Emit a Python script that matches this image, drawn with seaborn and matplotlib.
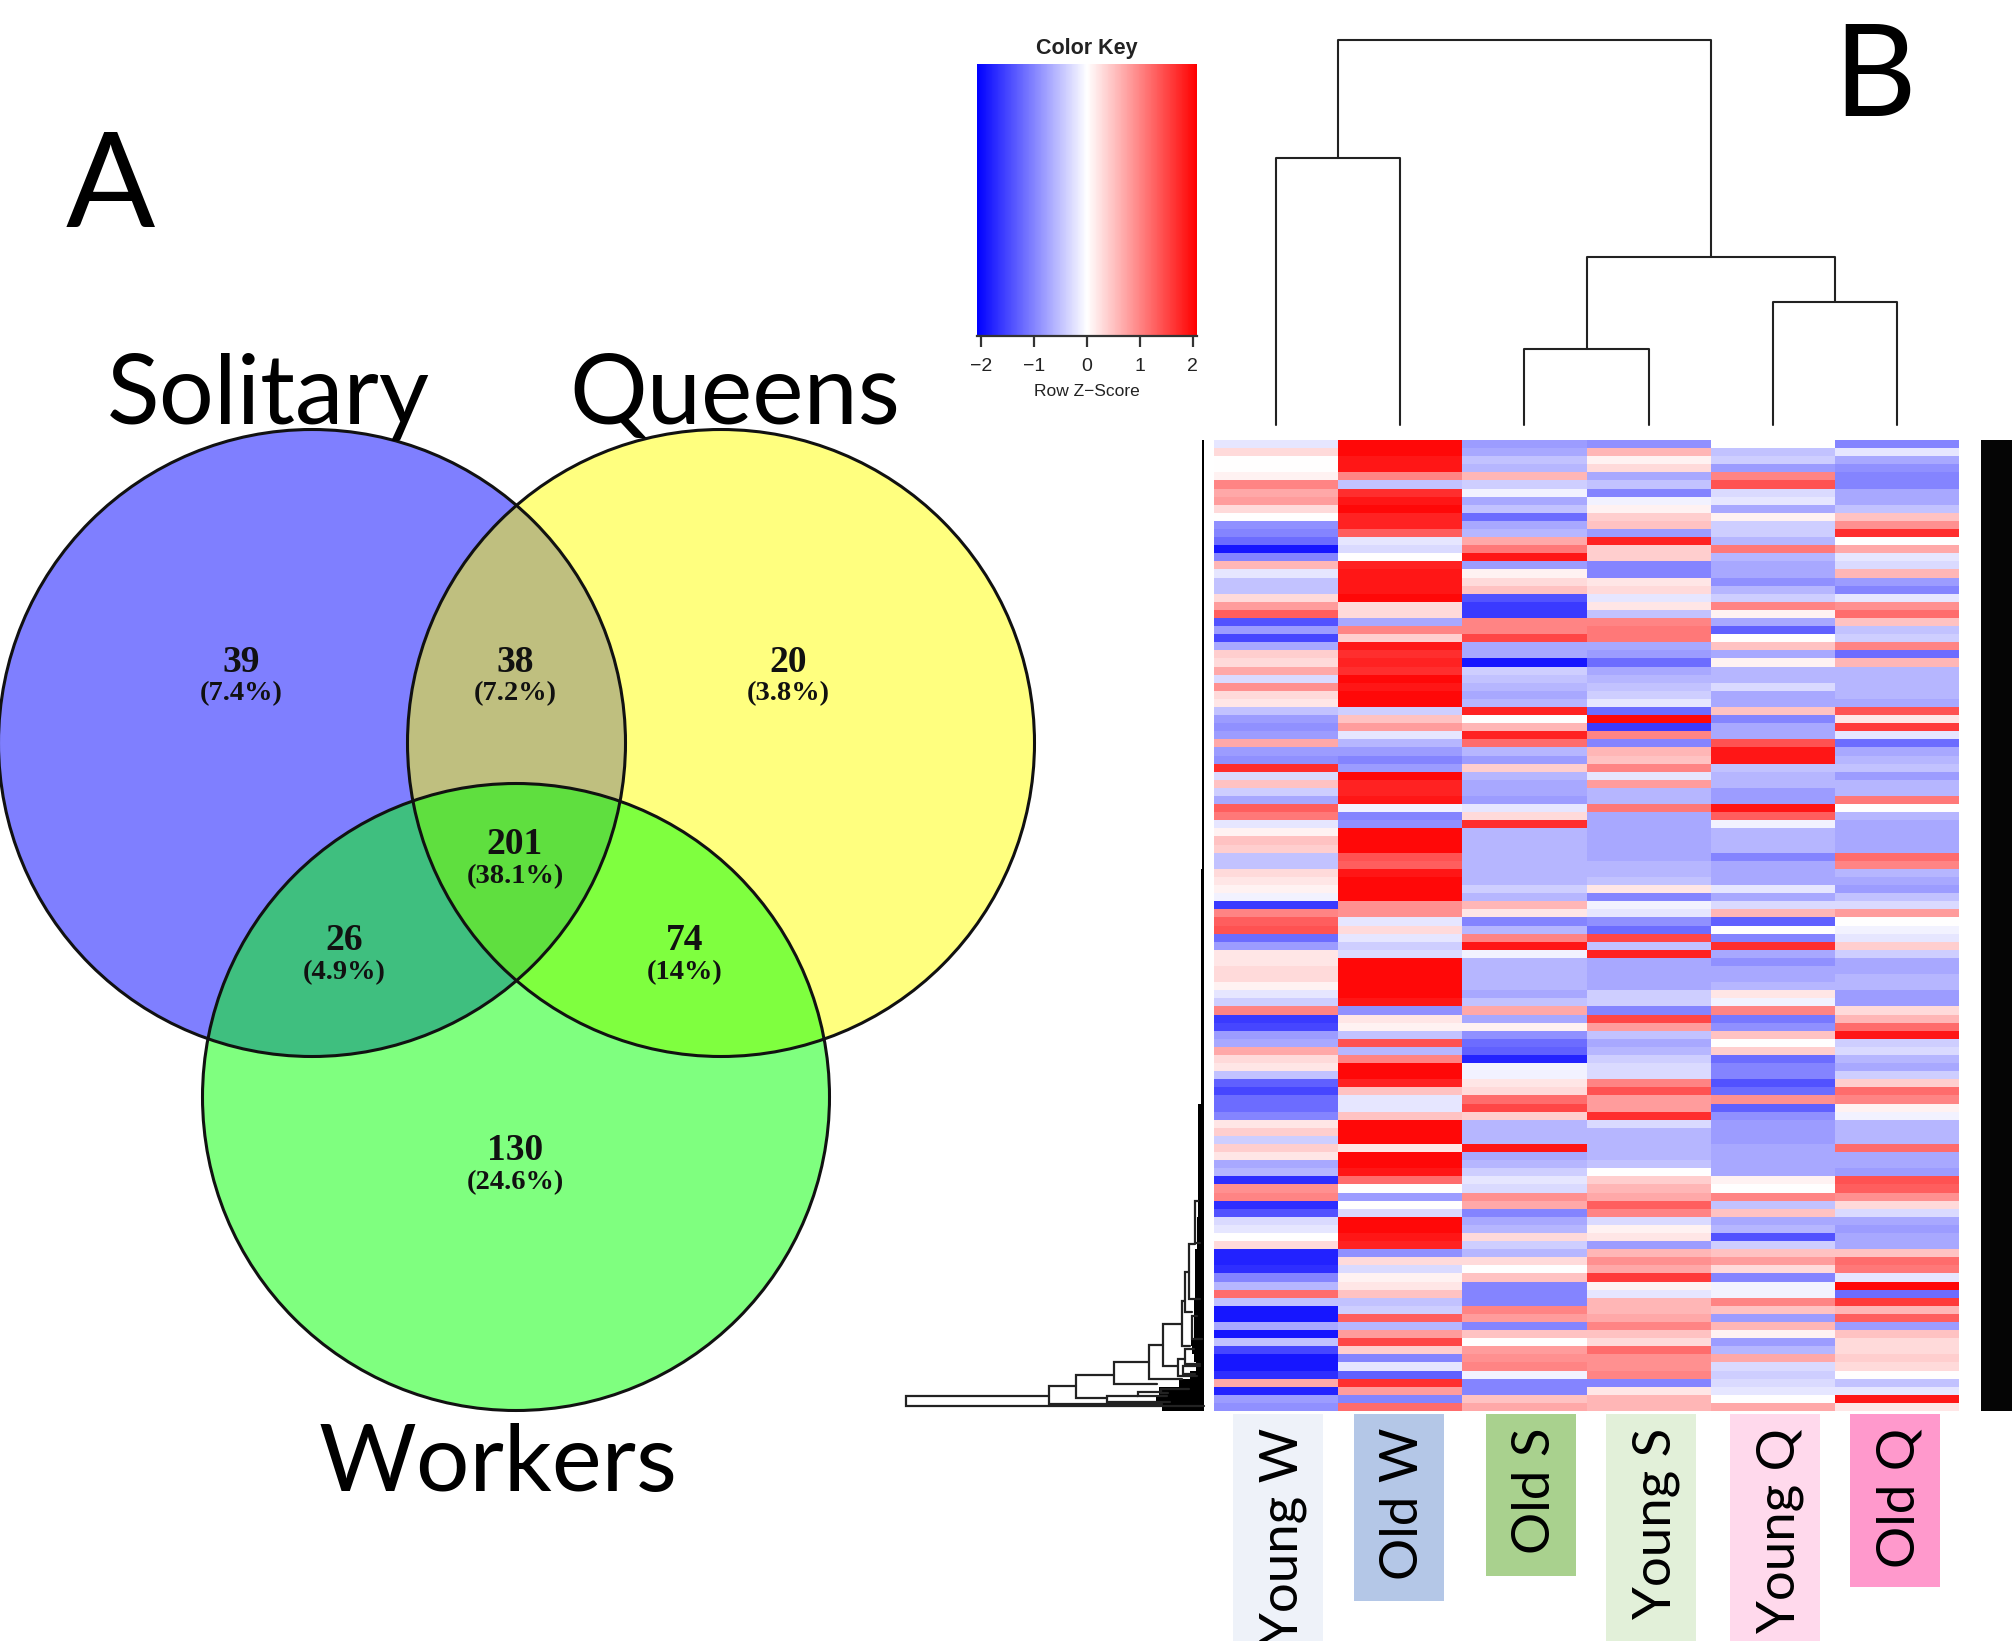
import numpy as np
import pandas as pd
import seaborn as sns
import matplotlib
matplotlib.use('Agg')
import matplotlib.pyplot as plt
from matplotlib.colors import LinearSegmentedColormap
from matplotlib.patches import Circle, Rectangle

# venn values
venn_counts = ['39', '38', '20', '201', '26', '74', '130']
venn_percents = ['(7.4%)', '(7.2%)', '(3.8%)', '(38.1%)', '(4.9%)', '(14%)', '(24.6%)']
venn_names = ['Solitary', 'Queens', 'Workers']

# heatmap values, one z-score per row band
samples = ['Young W', 'Old W', 'Old S', 'Young S', 'Young Q', 'Old Q']
young_w = [-0.2, 0.3, 0, 0, 0.1, 1.0, 0.7, 0.8, 0.3, 0,
           -0.9, -1.0, -1.2, -1.9, -1.0, 0.6, -0.2, -0.5, -0.5, 0.3,
           0.8, 1.3, -1.4, -0.8, -1.5, -0.7, 0.4, 0.3, 0.7, -0.3,
           0.9, 0.3, 0.2, -0.5, -0.8, -0.9, -0.8, 0.7, -0.8, -0.9,
           1.7, -0.3, 0.5, -0.4, -0.7, 1.3, 1.1, -0.2, 0.1, 0.5,
           0.4, -0.5, -0.5, 0.3, 0.2, 0.1, -0.1, -1.6, 1.0, 1.3,
           1.4, -1.2, -0.8, 0.2, 0.2, 0.3, 0.3, 0.1, -0.2, -0.4,
           1.0, -1.6, -1.5, -0.8, -0.7, 0.7, 0.3, 0.2, -0.5, -1.3,
           -1.5, -1.2, -1.2, -1.0, 0.2, 0.4, -0.4, 0.4, 0.2, -0.7,
           -0.6, -1.7, 0.9, 1.0, -1.7, -1.4, -0.3, -0.2, 0, 0.3,
           -1.8, -1.8, -1.7, -1.0, -0.6, 1.2, -0.5, -1.9, -1.9, -0.7,
           -1.9, -0.5, -1.5, -1.9, -1.9, -1.7, 0.7, -1.8, -0.8, -0.9]
old_w = [2, 2, 1.9, 1.9, 1.0, -0.5, 1.7, 1.9, 2, 1.8,
         1.8, 1.3, -0.2, -0.3, 0, 1.8, 1.9, 1.9, 1.9, 2,
         0.3, 0.3, -0.7, 1.0, 0.4, 1.9, 1.7, 1.8, 1.7, 2,
         1.9, 2, 2, -0.4, 0.5, 0.8, -0.2, -0.6, -0.8, -1.0,
         -0.8, 2, 1.8, 1.8, 1.9, -0.1, -1.0, -0.9, 2, 2,
         2, 1.4, 1.3, 1.9, 2, 2, 2, 0.9, 0.9, -0.2,
         0.3, -0.2, -0.4, -0.3, 2, 2, 2, 2, 2, 1.9,
         -0.9, 0.2, 0.1, -0.5, 1.4, -0.6, 1.0, 2, 2, 1.8,
         0.5, -0.2, -0.2, 0.5, 2, 2, 2, 0.2, 2, 2,
         1.9, 1.2, 0, -0.8, 0, -0.3, 2, 2, 1.9, 1.8,
         -0.9, 0.3, -0.3, 0.1, 0.2, 0.5, -0.5, -0.4, 1.3, -0.6,
         0.8, 1.5, 0.4, -1.0, -0.2, -1.3, 1.7, 0.8, -1.0, 1.2]
old_s = [-0.8, -0.7, -0.5, -0.6, 0.6, -0.4, -0.1, -0.7, -0.5, -1.2,
         -0.7, -0.6, 0.7, 1.1, 1.9, -0.8, 0.1, 0.3, 0.5, -1.4,
         -1.6, -1.6, 1.0, 1.0, 1.5, -0.7, -0.7, -1.9, -0.4, -0.5,
         -0.6, -0.7, -0.6, 1.8, 0, 0.6, 1.8, 1.2, -0.6, -0.8,
         0.4, -0.6, -0.7, -0.7, -0.8, -0.2, 0.3, 1.7, -0.6, -0.6,
         -0.6, -0.6, -0.6, -0.6, -0.6, -0.4, -0.6, 0.6, 0.2, -1.0,
         -0.6, 1.0, 1.9, -0.1, -0.6, -0.6, -0.6, -0.6, -0.7, -0.5,
         0.7, -0.7, 0.1, -0.9, -1.2, -1.3, -1.8, -0.1, -0.1, 0.2,
         0.3, 1.2, 1.5, 0.4, -0.6, -0.6, -0.6, 1.9, -0.7, -0.6,
         -0.4, -0.2, -0.3, 0.9, 0.7, -1.0, -0.7, -0.6, 0.3, -0.4,
         -0.6, 0.3, 0, 0.5, -1.0, -1.0, -1.0, 1.0, 0.8, -1.0,
         0.5, 0, 0.8, 0.9, 1.0, -0.1, -1.0, -1.0, 0.5, 0.7]
young_s = [-0.9, 0.6, 0.1, 0.3, -0.7, -0.5, -1.0, -0.1, 0.1, 0.4,
           0.5, -0.8, 1.8, 0.4, 0.4, -1.0, -1.0, 0.2, 0.3, -0.2,
           0.2, -0.5, 1.0, 1.1, 1.1, -0.7, -0.8, -1.2, -0.7, -0.6,
           -0.5, -0.4, -0.2, -1.2, 2, -1.6, 1.0, -1.0, 0.6, 0.5,
           1.0, -0.2, 0.8, -0.6, -0.6, 1.1, -0.7, -0.7, -0.7, -0.7,
           -0.7, -0.7, -0.6, -0.6, -0.5, 0.2, -1.0, -0.1, -0.2, -0.9,
           -1.2, 1.5, -0.5, 1.8, -0.7, -0.7, -0.7, -0.7, -0.4, -0.4,
           -1.0, 1.5, 0.8, -0.5, -0.7, -0.6, -0.4, -0.3, -0.3, 1.0,
           1.4, 0.8, 0.8, 1.7, -0.3, -0.6, -0.6, -0.6, -0.6, -0.5,
           0, 0.4, 0.6, 0.7, 1.3, 1.0, -0.3, 0.1, 0.2, -0.8,
           0.6, 0.9, 0.7, 1.6, 0.1, -0.2, 0.6, 0.6, 0.7, 1.0,
           0.5, 0.3, 1.2, 0.9, 0.9, 1.0, -1.0, 0.2, 0.6, 0.6]
young_q = [0, -0.5, -0.4, -0.8, 1.0, 1.4, -0.3, -0.2, -0.7, 0.1,
           -0.4, -0.4, -0.6, 1.1, -0.6, -0.7, -0.7, -0.9, -0.6, -0.4,
           1.0, 0.1, -0.7, -1.3, 0, 0.5, -0.7, 0.1, -0.6, -0.6,
           -0.3, -0.7, -0.7, 0.5, -1.0, -0.7, -0.7, 1.4, 1.9, 1.9,
           -0.5, -0.6, -0.6, -0.8, -0.8, 1.9, 1.3, -0.1, -0.6, -0.6,
           -0.6, -1.0, -0.7, -0.7, -0.7, -0.2, -0.7, -0.3, 0.6, -1.3,
           0, -1.0, 1.7, -0.7, -0.9, -0.7, -0.7, -0.6, 0.2, -0.1,
           1.0, -1.1, -0.9, 0.5, 0, 0.4, -1.2, -1.0, -1.0, -1.4,
           -1.2, 0.9, -1.3, -0.9, -0.8, -0.8, -0.8, -0.7, -0.7, -0.7,
           -0.7, 0.1, 0, 1.0, -0.5, 0.5, -0.7, -0.6, -1.4, -0.4,
           0.5, 0.8, 0.3, -1.0, -0.1, -0.1, 1.0, 0.5, -0.8, 0.6,
           0.1, -0.8, -0.6, 0.7, -0.3, -0.4, -0.3, -0.2, 0, 0.7]
old_q = [-1.0, -0.2, -0.7, -0.9, -1.0, -1.0, -0.7, -0.7, -0.5, 0.5,
         0.9, 1.7, 0, 0.7, -0.2, -0.3, 0.6, -0.8, -1.0, -0.2,
         0.9, 1.2, 0.5, -0.5, -0.4, 1.0, -1.2, 0.6, -0.6, -0.6,
         -0.6, -0.6, -0.7, 1.4, 0.2, 1.6, -0.2, -1.2, -0.7, -0.6,
         -0.5, -0.8, -0.6, -0.6, 1.1, 0, -0.6, -0.7, -0.7, -0.7,
         -0.7, 1.2, 1.0, -0.6, -0.7, -0.8, -0.5, -0.3, 0.8, 0,
         -0.1, -0.2, 0.4, -0.4, -0.7, -0.7, -0.6, -0.6, -0.8, -0.8,
         0.3, 0.6, 1.2, 1.9, -0.4, -0.3, -0.6, -0.7, -0.4, 0.4,
         1.2, 1.0, 0.1, -0.1, -0.6, -0.6, -0.6, 1.2, -0.7, -0.7,
         -0.8, 1.4, 1.3, 0.9, 0.3, -0.3, -0.7, -0.8, -0.7, -0.7,
         0.5, 1.2, 1.1, -0.2, 2, -1.2, 1.6, 0.6, 1.3, -0.8,
         0.5, 0.3, 0.3, 0.4, 0.3, 0, -0.5, -0.2, 1.9, 0.2]

# column dendrogram merge heights
col_height_worker = 267
col_height_solitary = 76
col_height_queen = 123
col_height_sq = 168
col_height_root = 385

# row dendrogram: height, top row, bottom row, top child height, bottom child height
row_heights = [298, 155, 128, 97, 90, 66, 55, 43, 41, 26, 22, 21, 19, 19, 15, 12, 9]
row_tops = [118.1, 116.9, 115.5, 118.2, 114, 117.6, 111.9, 117.3, 109.2, 113.6, 106.4, 114.4, 102.8, 112.3, 99.3, 108.3, 94]
row_bottoms = [119.4, 119.1, 118.4, 118.9, 116.7, 118.2, 116, 117.8, 114.5, 115.7, 112, 115.4, 107.8, 114.2, 106.2, 111.1, 99.2]
row_top_child = [155, 128, 90, 66, 55, 43, 41, 15, 22, 19, 19, 4, 15, 10, 9, 7, 6]
row_bottom_child = [0, 42, 97, 34, 47, 37, 22, 36, 26, 7, 14, 9, 12, 4, 4, 2, 4]
# width of the merged black part of the row dendrogram, per row band
row_mass = [2] * 53 + [3] * 29 + [6] * 14 + [7] * 4 + [9] * 6 + [10] * 5 + [13, 12, 10, 8, 14, 25, 45, 48, 42]

W, H = 2012, 1641


def px_axes(x0, y0, x1, y1):
    return fig.add_axes([x0 / W, 1 - y1 / H, (x1 - x0) / W, (y1 - y0) / H])


sns.set_theme(style='white')
plt.rcParams['font.family'] = ['Lato', 'DejaVu Sans']

fig = plt.figure(figsize=(W / 100, H / 100), dpi=100, facecolor='white')

# overlay for venn and labels, in pixels
ax = fig.add_axes([0, 0, 1, 1])
ax.set_xlim(0, W)
ax.set_ylim(H, 0)
ax.axis('off')

for xy, c in [((312, 743), '#0000ff'), ((721, 743), '#ffff00'), ((516, 1097), '#00ff00')]:
    ax.add_patch(Circle(xy, 313.5, facecolor=c, alpha=0.5, edgecolor='none'))
for xy in [(312, 743), (721, 743), (516, 1097)]:
    ax.add_patch(Circle(xy, 313.5, facecolor='none', edgecolor='#111111', linewidth=2.2))

venn_xy = [(241, 662), (515, 662), (788, 662), (515, 845), (344, 941), (685, 941), (515, 1151)]
for (x, y), n, p in zip(venn_xy, venn_counts, venn_percents):
    ax.text(x, y, n, family='Liberation Serif', fontweight='bold', fontsize=27, ha='center', va='center', color='#111111')
    ax.text(x, y + 32, p, family='Liberation Serif', fontweight='bold', fontsize=20.5, ha='center', va='center', color='#111111')

for (x, y), name, fs in zip([(268, 424), (735, 424), (498, 1491)], venn_names, [70, 70, 68]):
    ax.text(x, y, name, fontsize=fs, ha='center', va='baseline', color='black')
ax.text(110, 227, 'A', fontsize=95, ha='center', va='baseline', color='black')
ax.text(1875, 116, 'B', fontsize=92, ha='center', va='baseline', color='black')

# sample label boxes under the heatmap
box_x = [1233, 1354, 1486, 1606, 1730, 1850]
box_end = [1645, 1601, 1576, 1645, 1645, 1587]
box_colors = ['#eef2f9', '#b4c7e7', '#a9d18e', '#e2f0d9', '#ffd9ec', '#ff99cc']
for x, e, c, s in zip(box_x, box_end, box_colors, samples):
    ax.add_patch(Rectangle((x, 1414), 90, e - 1414, facecolor=c, edgecolor='none'))
    ax.text(x + 50, 1428, s, rotation=90, fontsize=38, ha='center', va='top', color='black', clip_on=True)

# black label strip right of the heatmap
ax.add_patch(Rectangle((1981, 440), 31, 971, facecolor='#050505', edgecolor='none'))

# heatmap and color key
df = pd.DataFrame(dict(zip(samples, [young_w, old_w, old_s, young_s, young_q, old_q])))
cmap = LinearSegmentedColormap.from_list('bwr_key', ['#0000ff', '#ffffff', '#ff0000'])
hm_ax = px_axes(1214, 440, 1959, 1411)
key_ax = px_axes(977, 64, 1197, 336)
sns.heatmap(df, ax=hm_ax, cmap=cmap, vmin=-2.08, vmax=2.08, xticklabels=False, yticklabels=False,
            cbar_ax=key_ax, cbar_kws={'orientation': 'horizontal', 'ticks': [-2, -1, 0, 1, 2]})
hm_ax.set_xlabel('')
hm_ax.set_ylabel('')

key_ax.set_aspect('auto')
key_ax.tick_params(axis='x', length=8, width=1.6, color='#333333', labelsize=14, pad=8, bottom=True, labelcolor='#222222')
for t in key_ax.get_xticklabels():
    t.set_family('Liberation Sans')
key_ax.set_xlabel('Row Z\u2212Score', family='Liberation Sans', fontsize=12.5, color='#222222', labelpad=6)
key_ax.set_title('Color Key', family='Liberation Sans', fontweight='bold', fontsize=15.5, color='#222222', pad=7)
hm_ax.collections[0].colorbar.outline.set_visible(False)
key_ax.spines['bottom'].set_visible(True)
key_ax.spines['bottom'].set_color('#333333')
key_ax.spines['bottom'].set_linewidth(1.6)

# column dendrogram
col_ax = px_axes(1214, 40, 1959, 425)
col_ax.set_xlim(0, 6)
col_ax.set_ylim(0, col_height_root)
col_ax.axis('off')


def merge(a, b, h, ha=0, hb=0):
    col_ax.plot([a, a, b, b], [ha, h, h, hb], color='#222222', lw=1.5, clip_on=False)
    return (a + b) / 2


left = merge(0.5, 1.5, col_height_worker)
mid = merge(2.5, 3.5, col_height_solitary)
right = merge(4.5, 5.5, col_height_queen)
sq = merge(mid, right, col_height_sq, col_height_solitary, col_height_queen)
merge(left, sq, col_height_root, col_height_worker, col_height_sq)

# row dendrogram
den_ax = px_axes(906, 440, 1204, 1411)
den_ax.set_xlim(298, 0)
den_ax.set_ylim(len(row_mass), 0)
den_ax.axis('off')
den_ax.fill_betweenx(np.arange(len(row_mass) + 1), 0, row_mass + row_mass[-1:], step='post', color='black', lw=0)
for h, t, b, tc, bc in zip(row_heights, row_tops, row_bottoms, row_top_child, row_bottom_child):
    den_ax.plot([tc, h, h, bc], [t, t, b, b], color='#222222', lw=1.6, clip_on=False, solid_joinstyle='miter')

fig.savefig('out.png', dpi=100)
